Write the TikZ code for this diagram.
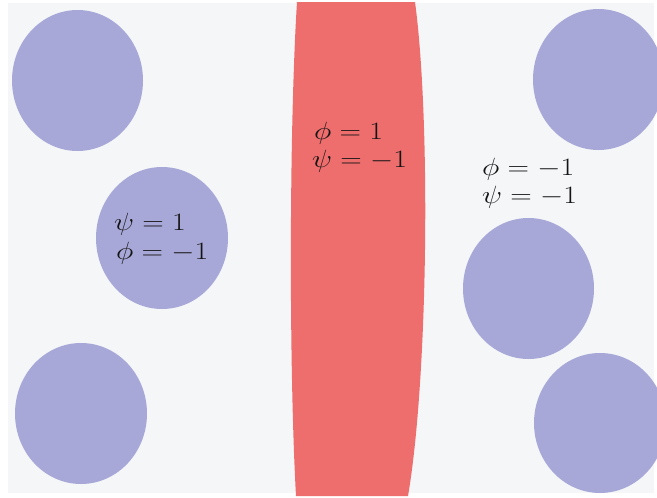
\RequirePackage{fix-cm}
\documentclass[tikz,border=0pt]{standalone}
\usepackage{graphicx}
\definecolor{bgc}{HTML}{F4F6F8}
\definecolor{blob}{HTML}{A8A8D8}
\definecolor{band}{HTML}{EE6E6E}
\definecolor{ink}{HTML}{141414}
\tikzset{
  lbl/.style={anchor=base west, inner sep=0pt, text=ink, font=\fontsize{25}{30}\selectfont},
  disk/.style={fill=blob, draw=none}
}
\newcommand{\wideeq}[1]{\scalebox{1.19}[1]{$#1$}}
\begin{document}
\begin{tikzpicture}[x=1pt,y=-1pt]
\useasboundingbox (0,0) rectangle (657,498);
\clip (0,0) rectangle (657,498);
\fill[white] (0,0) rectangle (657,498);
\fill[bgc] (8,3) rectangle (654,493);
% band
\fill[band] (297,2) .. controls (289,130) and (289,370) .. (296,496)
  -- (408,496) .. controls (428,380) and (431,120) .. (415,2) -- cycle;
% disks
\fill[disk] (77.5,80.5) ellipse [x radius=65.5, y radius=70.5];
\fill[disk] (162,238) ellipse [x radius=66, y radius=71];
\fill[disk] (81,413.5) ellipse [x radius=66, y radius=70.5];
\fill[disk] (598.5,79.5) ellipse [x radius=65.5, y radius=70.5];
\fill[disk] (528.5,288.5) ellipse [x radius=65.5, y radius=70.5];
\fill[disk] (600,423) ellipse [x radius=66, y radius=70];
% labels
\node[lbl] (m1) at (314,139) {\wideeq{\phi = 1}};
\node[lbl] (m2) at (312,167) {\wideeq{\psi = -1}};
\node[lbl] (l1) at (114,230.5) {\wideeq{\psi = 1}};
\node[lbl] (l2) at (116,259) {\wideeq{\phi = -1}};
\node[lbl] (r1) at (482,175) {\wideeq{\phi = -1}};
\node[lbl] (r2) at (482,203.5) {\wideeq{\psi = -1}};
\end{tikzpicture}
\end{document}
